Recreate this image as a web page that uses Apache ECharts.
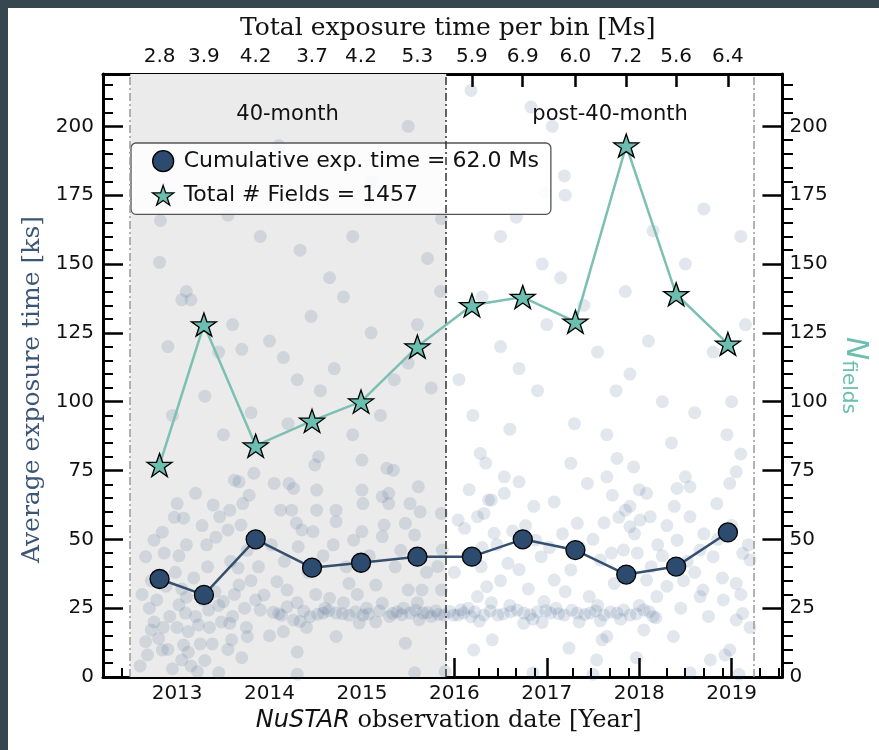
<!DOCTYPE html>
<html>
<head>
<meta charset="utf-8">
<script src="https://cdn.jsdelivr.net/npm/echarts@6/dist/echarts.min.js"></script>
<style>
html,body{margin:0;padding:0;background:#37474f;width:879px;height:750px;overflow:hidden;}
#chart{position:absolute;left:8px;top:8px;width:871px;height:742px;background:#fff;}
</style>
</head>
<body>
<div id="chart"></div>
<script>
// ---- data ----
const binYears = [2012.81, 2013.29, 2013.85, 2014.46, 2014.99, 2015.60, 2016.19, 2016.74, 2017.31, 2017.86, 2018.40, 2018.96];
const avgExposure = [35.6, 29.8, 50.0, 39.7, 41.5, 43.7, 43.7, 50.0, 46.1, 37.2, 40.1, 52.5];
const nFields = [77, 128, 84, 93, 100, 120, 135, 138, 129, 193, 139, 121];
const binTotalLabels = ['2.8', '3.9', '4.2', '3.7', '4.2', '5.3', '5.9', '6.9', '6.0', '7.2', '5.6', '6.4'];
const yearTicks = [2013, 2014, 2015, 2016, 2017, 2018, 2019];
const yTicks = [0, 25, 50, 75, 100, 125, 150, 175, 200];
const surveyBounds = [2012.493, 2015.912, 2019.237];
const regionLabels = [['40-month', 2014.2, 204], ['post-40-month', 2017.69, 204]];
const legendNames = ['Cumulative exp. time = 62.0 Ms', 'Total # Fields = 1457'];
const bgPoints = [
[2012.82,165.8],[2013.55,167.7],[2014.33,155],[2015.71,152],[2015.86,166.5],[2016.18,213],[2016.83,207],[2017.06,200],
[2017.19,182],[2017.2,175],[2016.98,176],[2016.67,167],[2016.5,160],[2012.81,150.6],[2013.1,140],[2014.9,160],
[2013.05,137],[2013.15,137],[2012.9,120],[2013.45,118],[2013.7,119],[2013.6,128],[2014.0,122],[2014.15,116],
[2014.3,108],[2014.55,104],[2014.7,112],[2014.45,131],[2014.8,138],[2015.1,125],[2015.35,108],[2015.5,114],
[2015.75,105],[2015.2,95],[2014.9,88],[2014.2,92],[2013.8,96],[2013.3,102],[2012.95,95],[2013.5,88],
[2015.6,128],[2015.85,140],[2016.3,138],[2016.5,120],[2016.7,112],[2016.9,104],[2017.0,128],[2017.15,145],
[2017.4,135],[2017.55,118],[2017.75,104],[2017.9,110],[2018.1,122],[2018.25,100],[2018.6,96],[2018.8,118],
[2019.0,100],[2019.15,128],[2016.2,95],[2016.6,90],[2017.3,92],[2017.65,88],[2018.35,85],[2018.95,88],
[2019.1,81],[2016.05,108],[2017.85,140],[2018.5,150],[2018.15,162],[2016.95,150],[2014.65,145],[2013.9,160],
[2015.1,180],[2014.1,193],[2013.25,188],[2015.5,200],[2018.7,170],[2019.1,160],
[2013.20,66.7],[2013.0,63],[2013.39,62.5],[2013.07,57.7],[2012.84,52.6],[2012.75,49.7],[2012.86,45],[2012.66,43.7],
[2013.1,48],[2013.32,48],[2013.42,50.8],[2013.55,53.4],[2013.62,71.5],[2013.67,70.9],[2013.83,74],[2013.78,66],
[2013.71,63],[2013.57,60.6],[2013.46,58.2],[2013.69,55.2],[2013.76,46],[2013.66,39.6],[2013.67,33.4],[2014.05,70.3],
[2014.21,70.3],[2014.26,68.5],[2014.12,60.6],[2014.24,60.6],[2014.29,55.9],[2014.35,53.4],[2014.47,52.8],[2014.31,47.3],
[2014.51,60.6],[2014.51,67.9],[2014.49,77],[2014.53,80],[2014.72,60.6],[2014.72,56.4],[2014.69,48],[2015.0,78.8],
[2015.0,67.9],[2015.01,63],[2015.0,52.8],[2014.91,49.7],[2015.22,65.5],[2015.29,66.7],[2015.34,75.1],[2015.27,75.8],
[2015.29,63],[2015.24,55.2],[2015.22,51],[2015.52,63],[2015.61,69.1],[2015.63,60],[2015.47,55.8],[2015.57,51.6],
[2015.86,59.4],[2015.87,46.1],[2015.82,40.1],[2015.86,31.6],[2016.28,81.2],[2016.37,64.3],[2016.32,59.4],
[2013.02,26.2],[2013.09,23.2],[2013.34,24.3],[2013.23,18.9],[2013.12,16.5],[2012.72,17.1],[2012.66,12.8],[2013.57,19.5],
[2013.59,13.5],[2013.41,31],[2013.5,27.4],[2013.73,25],[2013.9,24.3],[2013.94,29.8],[2014.08,34.6],[2014.19,25.5],
[2014.26,20.7],[2014.44,21.9],[2014.58,23.2],[2014.72,23.2],[2014.86,22.5],[2015.01,22.5],[2014.86,34],[2015.15,33.4],
[2015.22,26.8],[2015.38,23.7],[2015.52,23.2],[2015.66,23.2],[2015.89,22.5],[2015.99,22.5],[2016.1,23.2],[2015.5,31.6],
[2015.65,31.6],[2014.19,31.6],[2014.65,28.6],[2014.15,16.5],[2013.76,14.7],[2014.72,14.7],[2015.47,12.3],[2016.25,29.2],
[2016.35,32.8],
[2016.34,77.7],[2016.54,72.7],[2016.70,70.9],[2016.54,66.7],[2016.25,58.2],[2016.4,64.3],[2016.04,57],[2016.11,54],
[2016.43,52.2],[2016.88,49.7],[2016.94,43.7],[2017.08,63.6],[2017.33,55.8],[2017.26,77.6],[2017.44,70.3],[2017.65,72.7],
[2017.76,79.4],[2017.94,76.3],[2018.08,66.7],[2017.85,60.6],[2017.90,54.6],[2018.01,57],[2018.12,58.2],[2018.41,68.5],
[2018.55,69.1],[2018.50,72.7],[2018.84,63],[2019.05,74.5],[2018.98,70.3],[2018.55,58.2],[2018.41,49.7],[2018.66,46.1],
[2018.80,43.7],[2019.12,44.9],[2019.2,42.5],[2019.05,34],[2018.69,31.6],[2018.66,29.2],[2018.91,28],[2019.12,23.1],
[2019.05,20.7],[2018.19,29.2],[2018.05,24.3],[2017.90,22.5],[2017.76,23.2],[2017.62,22.5],[2017.47,23.2],[2017.33,23.2],
[2017.19,22.5],[2017.04,23.2],[2016.90,23.7],[2016.75,23.2],[2016.61,23.7],[2016.47,22.5],[2016.32,22.5],[2016.18,21.9],
[2016.04,22.5],[2017.46,29.2],[2016.97,27.4],[2017.73,34],[2018.08,35.2],[2017.83,46.1],[2017.58,42.5],[2017.26,38.9],
[2017.08,35.2],[2016.58,41.3],[2016.29,40.1],[2016.41,13.5],[2016.75,19.5],[2017.65,14.7],[2018.37,14.7],[2018.05,17.1],
[2013.07,11.6],[2013.05,6.2],[2012.84,9.8],[2014.30,9.1],[2016.21,9.8],[2017.24,10.5],[2017.54,6.2],[2017.6,13.5],
[2017.97,7],[2018.77,6.2],[2018.93,8],[2018.98,9.8],[2015.9,2],[2014.3,1],[2015.57,1.5],[2017.5,1],[2018.55,1.5],
[2019.08,1],[2016.85,1.5],[2013.45,1.5],
[2012.7,25],[2012.75,20],[2012.8,14],[2012.9,10],[2013.0,18],[2013.1,29],[2013.2,22],[2013.25,12],[2013.35,18],
[2013.45,26],[2013.55,10],[2013.3,6],[2012.62,30],[2012.68,8],[2013.15,4],[2012.95,3],[2013.6,22],[2013.75,18],
[2013.85,28],[2014.0,15],[2014.1,23],[2014.3,27],[2014.4,18],[2014.5,30],[2014.6,25],[2014.8,27],[2014.95,30],
[2015.05,25],[2015.15,20],[2015.3,22],[2015.45,25],[2015.6,27],[2015.75,22],[2015.8,24],
[2016.15,25],[2016.4,27],[2016.6,26],[2016.85,21],[2017.1,25],[2017.35,20],[2017.55,26],[2017.8,21],[2018.0,26],
[2018.15,22],[2018.3,33],[2018.45,25],[2018.6,38],[2018.75,22],[2018.9,36],[2019.1,30],[2019.2,18],[2016.5,35],
[2016.8,32],[2017.2,31],[2017.7,45],[2017.95,52],[2018.2,48],[2016.3,47],[2016.7,39],[2017.5,50],[2017.9,62],
[2018.0,68],[2018.3,55],[2018.7,52],
[2014.04,23.5],[2014.13,22.4],[2014.37,23.9],[2014.52,22.8],[2014.64,24.1],[2014.79,23.0],[2014.93,23.7],[2015.07,22.9],
[2015.19,24.0],[2015.33,23.1],[2015.43,22.6],[2015.58,24.2],[2015.71,23.4],[2015.83,22.7],[2015.95,23.8],[2016.07,24.4],
[2016.22,23.6],[2016.39,24.0],[2016.53,22.9],[2016.68,24.3],[2016.82,22.6],[2016.99,24.1],[2017.13,23.0],[2017.27,24.2],
[2017.41,22.7],[2017.53,24.0],[2017.69,23.6],[2017.83,24.3],[2017.97,22.9],[2018.11,23.7],[2018.18,21.5],[2017.58,20.4],
[2016.95,19.8],[2016.27,20.3],[2015.62,20.8],[2014.97,19.6],[2014.33,20.2],
[2012.6,4],[2012.72,35],[2012.78,28],[2012.88,33],[2012.98,38],[2013.05,32],[2013.18,36],[2013.28,28],[2013.38,12],
[2013.48,20],[2013.62,30],[2013.7,7],[2013.8,35],[2012.92,22],[2013.12,9],[2013.22,2],[2012.85,18],[2013.33,40],
[2013.02,44],[2013.27,55],[2012.97,58],[2013.58,42],[2013.88,40],[2014.02,48],[2014.16,42],[2014.42,38],[2014.58,44],
[2014.83,40],[2015.08,44],[2015.36,40],[2015.42,46],[2015.7,38],[2016.0,38],[2016.14,44],[2016.46,48],[2016.63,53],
[2016.77,55],[2017.03,47],[2017.17,52],[2017.36,47],[2017.62,56],[2017.78,58],[2017.98,45],[2018.13,40],[2018.25,44],
[2018.48,35],[2018.52,42],[2018.85,50],[2019.0,55],[2019.18,48],[2018.38,62],[2017.71,66],[2016.86,62],[2016.16,68]
];

// ---- derived helpers (ticks) ----
const xMin = 2012.198, xMax = 2019.55, yMin = 0, yMax = 219;
const xMinor = [];
for (let y = 2012; y <= 2019; y++) for (let k = 1; k <= 4; k++) { const v = +(y + k * 0.2).toFixed(1); if (v > xMin && v < xMax) xMinor.push(v); }
const yMinor = [];
for (let v = 5; v < yMax; v += 5) if (v % 25 !== 0) yMinor.push(v);

const STAR = 'path://M50,0 L61.8,35.1 L98.8,35.1 L68.9,56.8 L80.3,91.9 L50,70.2 L19.7,91.9 L31.1,56.8 L1.2,35.1 L38.2,35.1 Z';
const navy = '#2d4b6f', navyLine = '#35506f', teal = '#6cbfb0', tealLine = '#7cc0b3';
const sans = 'DejaVu Sans', serif = 'DejaVu Serif';
const lbl = { fontFamily: sans, fontSize: 20, color: '#111' };
const gridRect = { left: 95, right: 86, top: 66, bottom: 73, containLabel: false };
const spine = { show: true, onZero: false, lineStyle: { color: '#000', width: 3 } };
const noLine = { show: false, onZero: false };

function minorX(gi) {
  return { gridIndex: gi, type: 'value', min: xMin, max: xMax, position: 'bottom', axisLine: noLine,
    splitLine: { show: false }, axisLabel: { show: false },
    axisTick: { show: true, inside: true, length: 9, customValues: xMinor, lineStyle: { color: '#000', width: 2 } } };
}
function minorY(gi, pos) {
  return { gridIndex: gi, type: 'value', min: yMin, max: yMax, position: pos, axisLine: noLine,
    splitLine: { show: false }, axisLabel: { show: false },
    axisTick: { show: true, inside: true, length: 10, customValues: yMinor, lineStyle: { color: '#000', width: 2 } } };
}

const chart = echarts.init(document.getElementById('chart'), null, { renderer: 'canvas' });
chart.setOption({
  animation: false,
  backgroundColor: '#fff',
  grid: [gridRect, Object.assign({}, gridRect), Object.assign({}, gridRect)],
  legend: {
    orient: 'vertical', left: 123, top: 135,
    padding: [7, 12, 8, 21], itemWidth: 21, itemHeight: 21, itemGap: 12,
    backgroundColor: 'rgba(255,255,255,0.85)', borderColor: '#555', borderWidth: 1.3, borderRadius: 5,
    textStyle: { fontFamily: sans, fontSize: 22, color: '#111', padding: [0, 0, 0, 5] },
    data: [
      { name: legendNames[0], icon: 'circle', itemStyle: { color: navy, borderColor: '#000', borderWidth: 1.3 } },
      { name: legendNames[1], icon: STAR, itemStyle: { color: teal, borderColor: '#000', borderWidth: 1.3 } }
    ]
  },
  xAxis: [
    { gridIndex: 0, type: 'value', min: xMin, max: xMax, position: 'bottom', axisLine: spine, splitLine: { show: false },
      axisTick: { show: true, inside: true, length: 19, customValues: yearTicks, lineStyle: { color: '#000', width: 2.5 } },
      axisLabel: Object.assign({ customValues: yearTicks, margin: 7, formatter: v => String(Math.round(v)) }, lbl),
      name: '{i|NuSTAR} observation date [Year]', nameLocation: 'middle', nameGap: 29,
      nameTextStyle: { fontFamily: serif, fontSize: 24, color: '#111', padding: [0, 0, 0, 12],
        rich: { i: { fontFamily: sans, fontStyle: 'italic', fontSize: 24, color: '#111' } } } },
    { gridIndex: 0, type: 'value', min: xMin, max: xMax, position: 'top', axisLine: spine, splitLine: { show: false },
      axisTick: { show: true, inside: true, length: 13, customValues: binYears, lineStyle: { color: '#000', width: 2.5 } },
      axisLabel: Object.assign({ customValues: binYears, margin: 7, formatter: v => {
        let best = 0; binYears.forEach((b, i) => { if (Math.abs(b - v) < Math.abs(binYears[best] - v)) best = i; });
        return binTotalLabels[best]; } }, lbl),
      name: 'Total exposure time per bin [Ms]', nameLocation: 'middle', nameGap: 33,
      nameTextStyle: { fontFamily: serif, fontSize: 25, color: '#111', padding: [0, 0, 0, 10] } },
    minorX(1),
    { gridIndex: 2, type: 'value', min: xMin, max: xMax, show: false, axisLine: noLine }
  ],
  yAxis: [
    { gridIndex: 0, type: 'value', min: yMin, max: yMax, position: 'left', axisLine: spine, splitLine: { show: false },
      axisTick: { show: true, inside: true, length: 20, customValues: yTicks, lineStyle: { color: '#000', width: 2.5 } },
      axisLabel: Object.assign({ customValues: yTicks, margin: 9 }, lbl),
      name: 'Average exposure time [ks]', nameLocation: 'middle', nameRotate: 90, nameGap: 43,
      nameTextStyle: { fontFamily: serif, fontSize: 25, color: '#3b5577', padding: [0, 28, 0, 0] } },
    { gridIndex: 0, type: 'value', min: yMin, max: yMax, position: 'right', axisLine: spine, splitLine: { show: false },
      axisTick: { show: true, inside: true, length: 20, customValues: yTicks, lineStyle: { color: '#000', width: 2.5 } },
      axisLabel: Object.assign({ customValues: yTicks, margin: 7 }, lbl),
      name: '{n|N}{s|fields}', nameLocation: 'middle', nameRotate: -90, nameGap: 19,
      nameTextStyle: { color: teal,
        rich: { n: { fontFamily: sans, fontStyle: 'italic', fontSize: 31, color: teal },
                s: { fontFamily: sans, fontSize: 20, color: teal, padding: [14, 0, 0, 0] } } } },
    minorY(1, 'left'),
    minorY(2, 'right')
  ],
  series: [
    { type: 'scatter', xAxisIndex: 0, yAxisIndex: 0, data: [], z: 1, silent: true,
      markArea: { silent: true, itemStyle: { color: '#ebebeb' },
        data: [[{ xAxis: surveyBounds[0] }, { xAxis: surveyBounds[1] }]] },
      markLine: { silent: true, symbol: 'none', label: { show: false },
        data: [
          { xAxis: surveyBounds[0], lineStyle: { color: '#9a9a9a', width: 1.5, type: [8, 3, 2, 3] } },
          { xAxis: surveyBounds[1], lineStyle: { color: '#333', width: 1.5, type: [8, 3, 2, 3] } },
          { xAxis: surveyBounds[2], lineStyle: { color: '#9a9a9a', width: 1.5, type: [8, 3, 2, 3] } }
        ] } },
    { type: 'scatter', xAxisIndex: 0, yAxisIndex: 0, data: bgPoints, z: 2, silent: true,
      symbol: 'circle', symbolSize: 13, itemStyle: { color: 'rgba(40,74,130,0.17)' } },
    { type: 'scatter', xAxisIndex: 0, yAxisIndex: 0, z: 3, silent: true, symbolSize: 1,
      itemStyle: { opacity: 0 },
      data: regionLabels.map(r => ({ name: r[0], value: [r[1], r[2]] })),
      label: { show: true, position: [0, 0], align: 'center', verticalAlign: 'middle', formatter: p => p.name,
        fontFamily: sans, fontSize: 21, color: '#111', opacity: 1, textBorderWidth: 0 } },
    { type: 'line', name: legendNames[0], xAxisIndex: 0, yAxisIndex: 0, z: 4,
      data: binYears.map((x, i) => [x, avgExposure[i]]),
      symbol: 'circle', symbolSize: 19,
      itemStyle: { color: navy, borderColor: '#000', borderWidth: 1.3 },
      lineStyle: { color: navyLine, width: 2.5 } },
    { type: 'line', name: legendNames[1], xAxisIndex: 0, yAxisIndex: 1, z: 5,
      data: binYears.map((x, i) => [x, nFields[i]]),
      symbol: STAR, symbolSize: [25, 23],
      itemStyle: { color: teal, borderColor: '#000', borderWidth: 1.3 },
      lineStyle: { color: tealLine, width: 2.5 } }
  ]
});
</script>
</body>
</html>
